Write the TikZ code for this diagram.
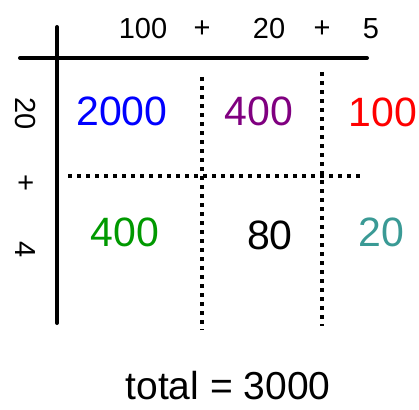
\documentclass[tikz,border=0pt]{standalone}
\usepackage{fontspec}
\setmainfont{Liberation Sans}
\usetikzlibrary{positioning}
\definecolor{boxblue}{HTML}{0000FF}
\definecolor{boxpurple}{HTML}{800080}
\definecolor{boxred}{HTML}{FF0000}
\definecolor{boxgreen}{HTML}{009900}
\definecolor{boxteal}{HTML}{3A9A95}
\begin{document}
\begin{tikzpicture}[
    x=1pt, y=-1pt,
    factor/.style={inner sep=0pt, font=\fontsize{29}{29}\selectfont},
    sidefactor/.style={factor, rotate=-90},
    part/.style={inner sep=0pt, font=\fontsize{41}{41}\selectfont},
    axis/.style={line width=4pt, line cap=round},
    split/.style={line width=4.3pt, dash pattern=on 4.3pt off 4.7pt}
]
\useasboundingbox (0,0) rectangle (419,409);

% Factors
\node[factor] (h100) at (143,29) {100};
\node[factor] (hplus1) at (202,29) {+};
\node[factor] (h20) at (269,29) {20};
\node[factor] (hplus2) at (322,29) {+};
\node[factor] (h5) at (371,29) {5};

\node[sidefactor] (v20) at (25,114) {20};
\node[sidefactor] (vplus) at (25,183) {+};
\node[sidefactor] (v4) at (25,250) {4};

% Partial products
\node[part, text=boxblue] (p2000) at (122,111) {2000};
\node[part, text=boxpurple] (p400a) at (259,111) {400};
\node[part, text=boxred] (p100) at (383,112) {100};
\node[part, text=boxgreen] (p400b) at (125,232) {400};
\node[part] (p80) at (270,235) {80};
\node[part, text=boxteal] (p20) at (381,232) {20};

\node[part, font=\fontsize{39}{39}\selectfont] (total) at (228,386) {total = 3000};

% Lines
\draw[axis] (20,58) -- (367,58);
\draw[axis] (57,27) -- (57,323);
\draw[split] (202,77) -- (202,330);
\draw[split] (322,72) -- (322,326);
\draw[split] (68,176) -- (363,176);

\end{tikzpicture}
\end{document}
